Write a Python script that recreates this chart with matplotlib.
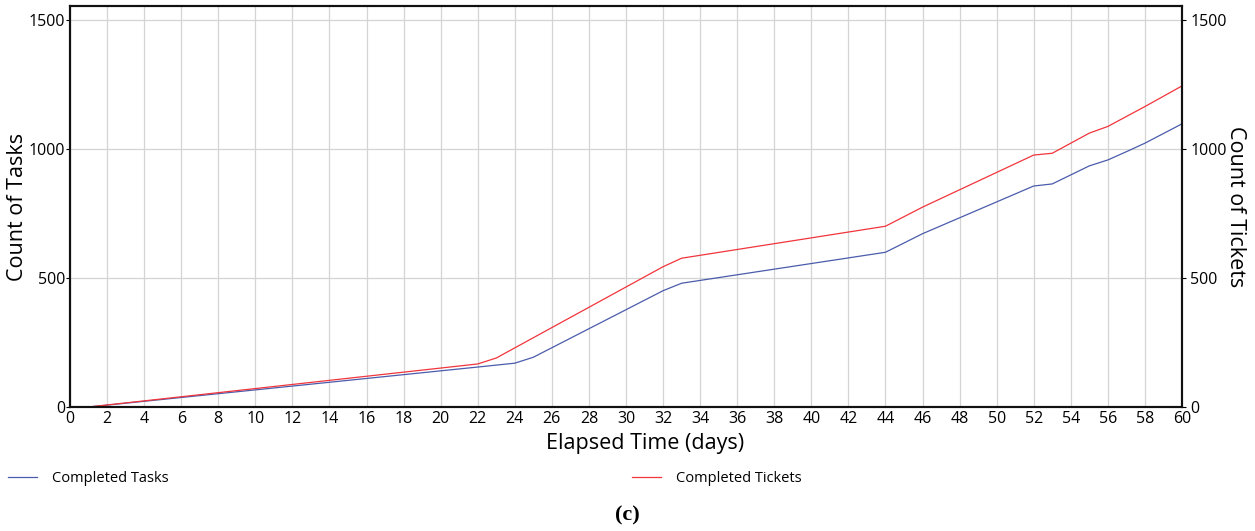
import matplotlib.pyplot as plt

plt.rcParams['font.family'] = ['Open Sans', 'DejaVu Sans']

# breakpoints (day, count)
task_days = [0, 1, 22, 24, 25, 32, 33, 44, 46, 52, 53, 55, 56, 57, 58, 60]
tasks = [0, 0, 155, 170, 193, 451, 480, 600, 672, 857, 865, 935, 958, 990, 1023, 1098]
ticket_days = [0, 1, 22, 23, 32, 33, 44, 46, 52, 53, 55, 56, 58, 60]
tickets = [0, 0, 167, 190, 544, 577, 701, 775, 977, 984, 1062, 1088, 1165, 1245]

blue = '#4a5cab'
red = '#f0353c'

fig = plt.figure(figsize=(12.55, 5.31), dpi=100)
ax = fig.add_axes([0.0558, 0.2335, 0.8860, 0.7552])
ax2 = ax.twinx()

l1, = ax.plot(task_days, tasks, color=blue, lw=0.9, label='Completed Tasks')
l2, = ax.plot(ticket_days, tickets, color=red, lw=0.9, label='Completed Tickets')

for a in (ax, ax2):
    a.set_ylim(0, 1555)
    a.set_yticks([0, 500, 1000, 1500])
    for s in a.spines.values():
        s.set_linewidth(1.5)
        s.set_color('#111111')
ax.set_xlim(0, 60)
ax.set_xticks(range(0, 61, 2))
ax.grid(True, color='#d4d4d4', lw=0.9)
ax.set_axisbelow(True)
ax.tick_params(axis='x', length=0, pad=3, labelsize=11.5)
ax.tick_params(axis='y', length=3, pad=0.5, labelsize=11.5)
ax2.tick_params(axis='y', length=3, pad=3, labelsize=11.5)

ax.set_xlabel('Elapsed Time (days)', fontsize=15.5)
ax.xaxis.set_label_coords(0.517, -0.066)
ax.set_ylabel('Count of Tasks', fontsize=15.5)
ax.yaxis.set_label_coords(-0.038, 0.5)
ax2.set_ylabel('Count of Tickets', fontsize=15.5, rotation=270, labelpad=14)

fig.legend(handles=[l1], loc='center left', bbox_to_anchor=(-0.004, 0.099),
           frameon=False, fontsize=10.5, handlelength=2.0, handletextpad=1.0)
fig.legend(handles=[l2], loc='center left', bbox_to_anchor=(0.493, 0.099),
           frameon=False, fontsize=10.5, handlelength=2.0, handletextpad=1.0)

fig.text(0.5, 0.03, '(c)', ha='center', va='center', fontsize=16,
         fontweight='bold', family='Liberation Serif')

fig.savefig('out.png', dpi=100)
